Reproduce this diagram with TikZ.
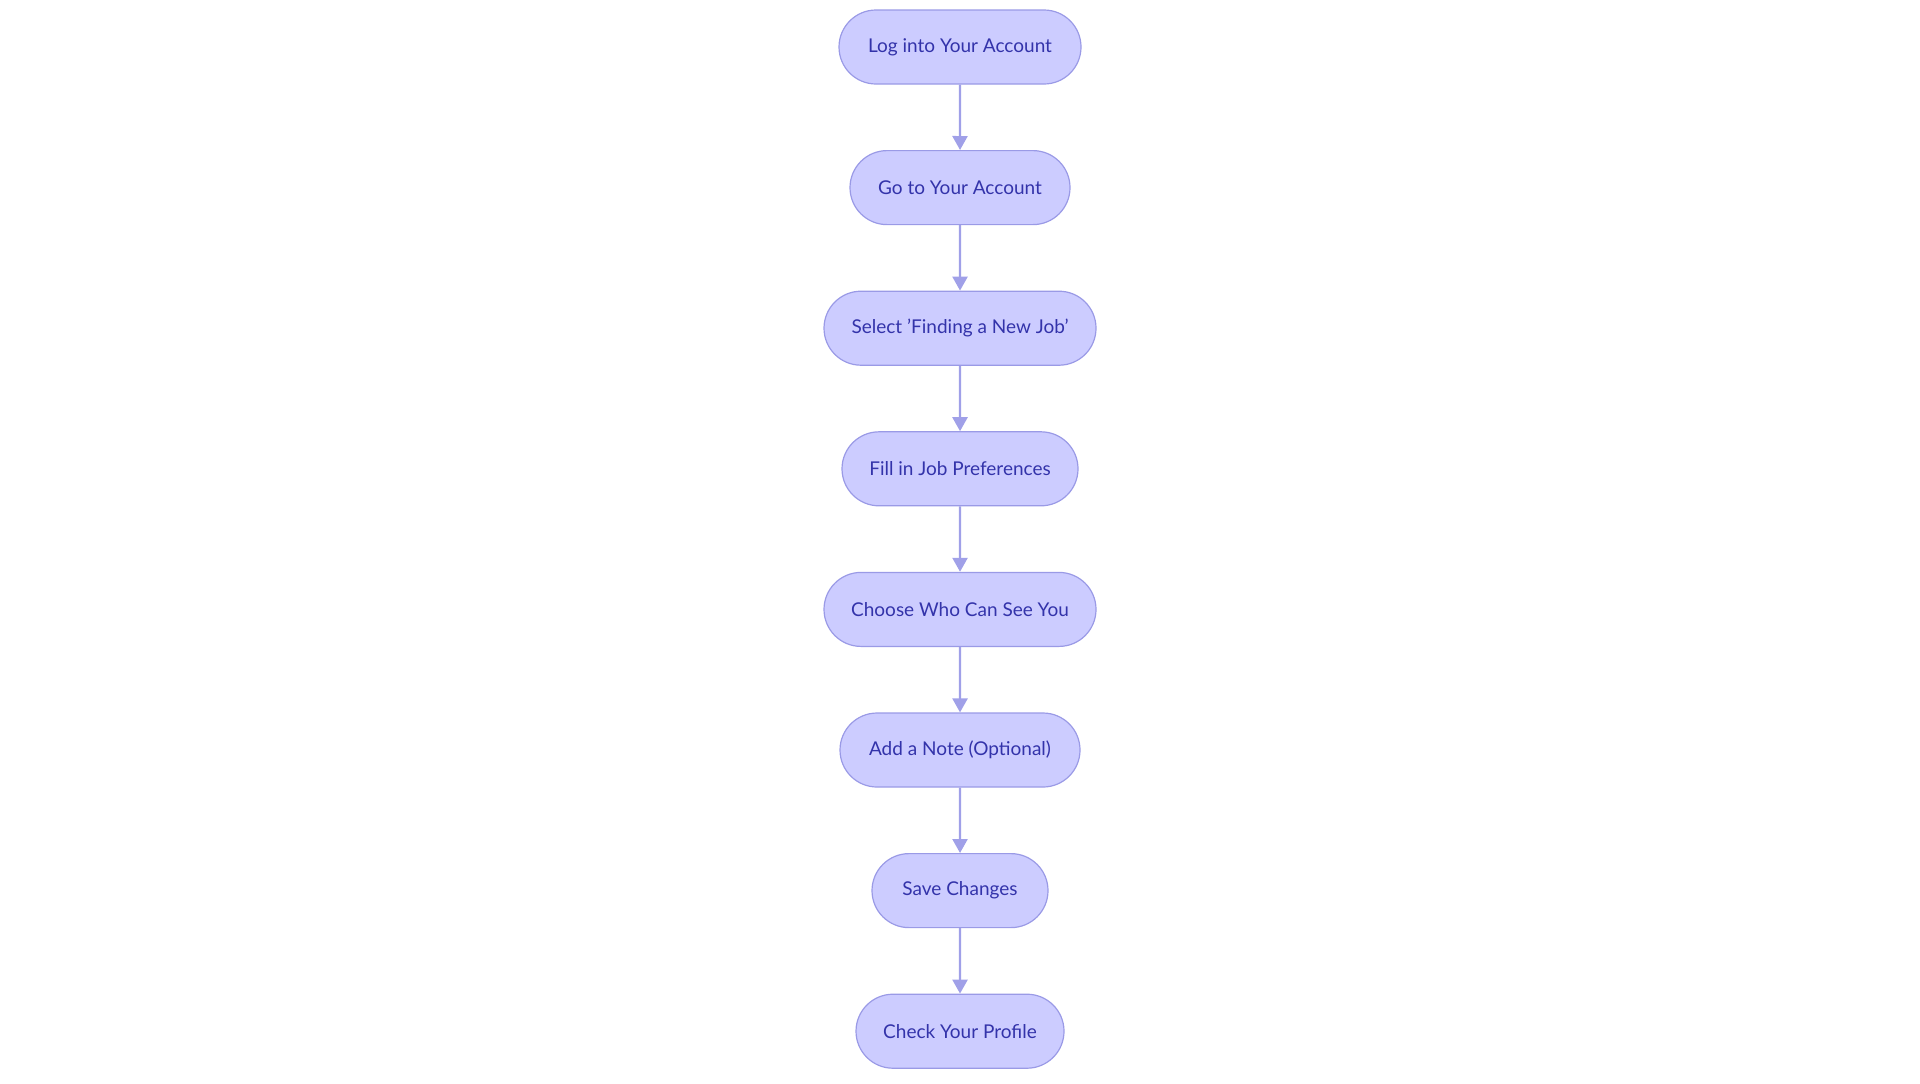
\documentclass[tikz,border=0pt]{standalone}
\usepackage{fontspec}
\setmainfont{Lato}
\usetikzlibrary{arrows.meta,shapes.misc}
\definecolor{nfill}{HTML}{CCCCFF}
\definecolor{nborder}{HTML}{9A9AE6}
\definecolor{ntext}{HTML}{3333AA}
\definecolor{arr}{HTML}{A0A0E8}
\tikzset{
  stepbox/.style={rounded rectangle, draw=nborder, fill=nfill, text=ntext, line width=0.6pt,
    minimum height=37pt, inner sep=0pt, font=\fontsize{9.5}{11}\selectfont},
  conn/.style={draw=arr, line width=1.2pt, -{Triangle[length=7pt,width=7.5pt]}}
}
\begin{document}
\begin{tikzpicture}[x=0.5pt,y=-0.5pt]
\useasboundingbox (0,0) rectangle (1920,1083);
\node[stepbox, minimum width=121pt] (n1) at (960,47) {Log into Your Account};
\node[stepbox, minimum width=110pt] (n2) at (960,187.6) {Go to Your Account};
\node[stepbox, minimum width=136pt] (n3) at (960,328.2) {Select 'Finding a New Job'};
\node[stepbox, minimum width=118pt] (n4) at (960,468.8) {Fill in Job Preferences};
\node[stepbox, minimum width=136pt] (n5) at (960,609.4) {Choose Who Can See You};
\node[stepbox, minimum width=120pt] (n6) at (960,750) {Add a Note (Optional)};
\node[stepbox, minimum width=88pt] (n7) at (960,890.6) {Save Changes};
\node[stepbox, minimum width=104pt] (n8) at (960,1031.2) {Check Your Profile};
\foreach \a/\b in {n1/n2,n2/n3,n3/n4,n4/n5,n5/n6,n6/n7,n7/n8}
  \draw[conn] (\a) -- (\b);
\end{tikzpicture}
\end{document}
